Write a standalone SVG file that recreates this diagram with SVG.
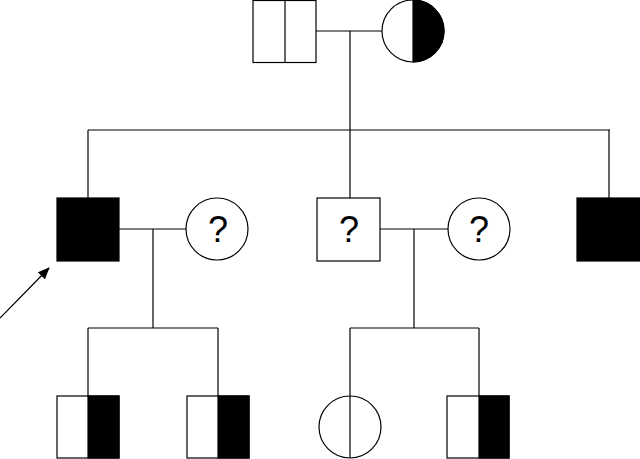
<svg xmlns="http://www.w3.org/2000/svg" width="640" height="459" viewBox="0 0 640 459">
<style>
.s{fill:#fff;stroke:#000;stroke-width:1.2}
.b{fill:#000;stroke:#000;stroke-width:1.2}
.l{fill:none;stroke:#000;stroke-width:1.2}
.q{font-family:"Liberation Sans",Arial,sans-serif;font-size:36px;text-anchor:middle;fill:#000}
</style>
<defs>
<marker id="ah" markerWidth="12" markerHeight="10" refX="11" refY="5" orient="auto" markerUnits="userSpaceOnUse">
<path d="M0,0 L12,5 L0,10 z" fill="#000"/>
</marker>
</defs>
<g id="connectors">
<line class="l" x1="316" y1="31" x2="382" y2="31"/>
<line class="l" x1="350" y1="31" x2="350" y2="130"/>
<line class="l" x1="88" y1="130" x2="610" y2="130"/>
<line class="l" x1="88" y1="130" x2="88" y2="198"/>
<line class="l" x1="350" y1="130" x2="350" y2="198"/>
<line class="l" x1="609" y1="130" x2="609" y2="198"/>
<line class="l" x1="119" y1="229" x2="186" y2="229"/>
<line class="l" x1="153" y1="229" x2="153" y2="328"/>
<line class="l" x1="88" y1="328" x2="218" y2="328"/>
<line class="l" x1="88" y1="328" x2="88" y2="396"/>
<line class="l" x1="218" y1="328" x2="218" y2="396"/>
<line class="l" x1="380" y1="229" x2="448" y2="229"/>
<line class="l" x1="414" y1="229" x2="414" y2="328"/>
<line class="l" x1="350" y1="328" x2="479" y2="328"/>
<line class="l" x1="350" y1="328" x2="350" y2="396"/>
<line class="l" x1="479" y1="328" x2="479" y2="396"/>
<line class="l" x1="0" y1="318" x2="49" y2="268" marker-end="url(#ah)"/>
</g>
<g id="grandfather">
<rect class="s" x="253" y="0.5" width="63" height="62"/>
<line class="l" x1="285" y1="0.5" x2="285" y2="62.5"/>
</g>
<g id="grandmother">
<circle class="s" cx="413" cy="31" r="31"/>
<path class="b" d="M413,0 A31,31 0 0 1 413,62 z"/>
</g>
<g id="proband">
<rect class="b" x="57" y="198" width="62" height="63"/>
</g>
<g id="spouse1">
<circle class="s" cx="217" cy="229" r="31"/>
<text class="q" x="218" y="242">?</text>
</g>
<g id="son2">
<rect class="s" x="317" y="198" width="63" height="63"/>
<text class="q" x="349" y="242">?</text>
</g>
<g id="spouse2">
<circle class="s" cx="479" cy="229" r="31"/>
<text class="q" x="479" y="242">?</text>
</g>
<g id="son3">
<rect class="b" x="577" y="198" width="63" height="63"/>
</g>
<g id="gc1">
<rect class="s" x="57" y="396" width="62" height="62"/>
<rect class="b" x="88" y="396" width="31" height="62"/>
</g>
<g id="gc2">
<rect class="s" x="187" y="396" width="62" height="62"/>
<rect class="b" x="218" y="396" width="31" height="62"/>
</g>
<g id="gc3">
<circle class="s" cx="350" cy="427" r="31"/>
<line class="l" x1="350" y1="396" x2="350" y2="458"/>
</g>
<g id="gc4">
<rect class="s" x="447" y="396" width="62" height="62"/>
<rect class="b" x="479" y="396" width="30" height="62"/>
</g>
</svg>
